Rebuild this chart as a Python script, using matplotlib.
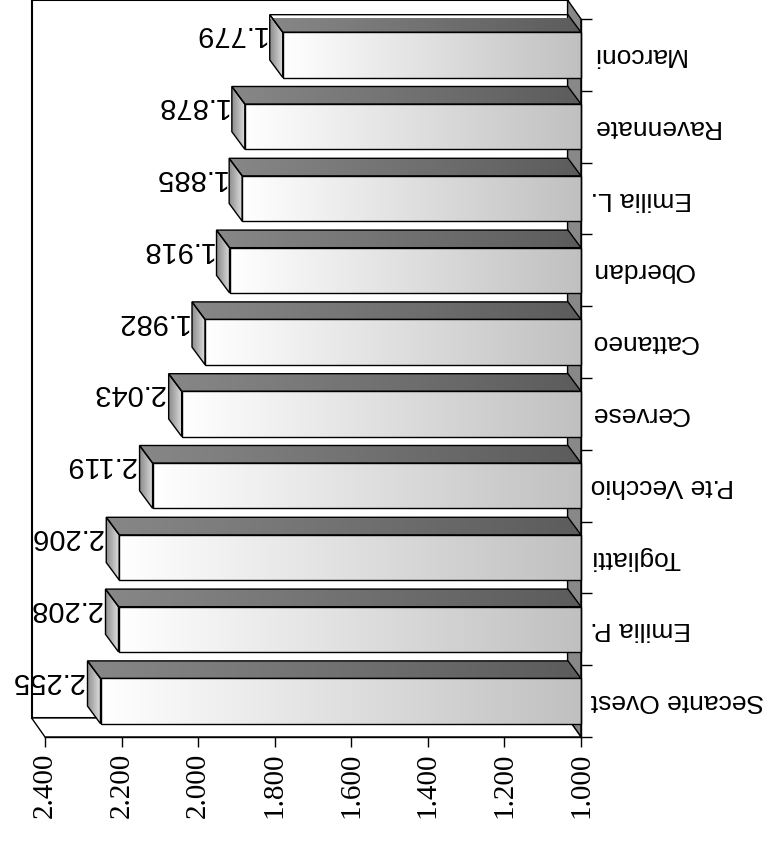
import os

import numpy as np
import matplotlib

matplotlib.use("Agg")
import matplotlib.pyplot as plt
from matplotlib import font_manager as fm
from matplotlib.colors import LinearSegmentedColormap
from matplotlib.patches import Polygon

# daily flows per station (thousands separator is a dot)
stations = ["Secante Ovest", "Emilia P.", "Togliatti", "P.te Vecchio", "Cervese",
            "Cattaneo", "Oberdan", "Emilia L.", "Ravennate", "Marconi"]
flows = [2255, 2208, 2206, 2119, 2043, 1982, 1918, 1885, 1878, 1779]
value_ticks = [1000, 1200, 1400, 1600, 1800, 2000, 2200, 2400]

BASE, TOP = 1000, 2400
WALL_DX, WALL_DY = 35, 0.265   # depth of the box, in value / category units
BAR_DX, BAR_DY = 34, 0.245     # depth of each bar
BAR_H = 0.63


def load_family(stem, fallback):
    """Register a font file by its file name and return its family name."""
    for path in fm.findSystemFonts():
        if os.path.basename(path).startswith(stem):
            fm.fontManager.addfont(path)
            return [fm.FontProperties(fname=path).get_name(), fallback]
    return [fallback]


SANS = load_family("LiberationSans-Regular", "DejaVu Sans")
SERIF = load_family("LiberationSerif-Regular", "DejaVu Serif")


def fmt(v):
    return f"{v:,}".replace(",", ".")


def shaded(ax, verts, x0, x1, c0, c1, z):
    """Polygon filled with a horizontal gradient from c0 (at x0) to c1 (at x1)."""
    poly = Polygon(verts, closed=True, facecolor="none", edgecolor="black",
                   lw=1.0, zorder=z + 0.1, clip_on=False)
    ax.add_patch(poly)
    ys = [p[1] for p in verts]
    cmap = LinearSegmentedColormap.from_list("shade", [c0, c1])
    grad = np.linspace(0, 1, 256).reshape(1, -1)
    im = ax.imshow(grad, cmap=cmap, aspect="auto", interpolation="bilinear",
                   extent=(x0, x1, min(ys), max(ys)), zorder=z)
    im.set_clip_path(poly)
    im.set_clip_box(None)


fig = plt.figure(figsize=(7.69, 8.41), dpi=100)
ax = fig.add_axes([45 / 769, 104 / 841, 536 / 769, 718 / 841])
ax.set_autoscale_on(False)
ax.set_xlim(TOP, BASE)
ax.set_ylim(-0.5, len(stations) - 0.5)
y_lo, y_hi = -0.5, len(stations) - 0.5

# back wall, side wall and floor of the box
ax.add_patch(Polygon([(BASE + WALL_DX, y_lo + WALL_DY), (TOP + WALL_DX, y_lo + WALL_DY),
                      (TOP + WALL_DX, y_hi + WALL_DY), (BASE + WALL_DX, y_hi + WALL_DY)],
                     facecolor="white", edgecolor="black", lw=1.5, zorder=0.5, clip_on=False))
ax.add_patch(Polygon([(BASE, y_lo), (BASE, y_hi), (BASE + WALL_DX, y_hi + WALL_DY),
                      (BASE + WALL_DX, y_lo + WALL_DY)],
                     facecolor="#888888", edgecolor="black", lw=1.0, zorder=0.6, clip_on=False))
ax.add_patch(Polygon([(BASE, y_lo), (TOP, y_lo), (TOP + WALL_DX, y_lo + WALL_DY),
                      (BASE + WALL_DX, y_lo + WALL_DY)],
                     facecolor="white", edgecolor="black", lw=1.0, zorder=0.7, clip_on=False))

# bars, drawn from the top row down
for i in range(len(stations) - 1, -1, -1):
    v = flows[i]
    yb, yt = i - BAR_H / 2, i + BAR_H / 2
    z = 2 + (len(stations) - i) * 0.5
    # top face
    shaded(ax, [(v, yt), (BASE, yt), (BASE + BAR_DX, yt + BAR_DY), (v + BAR_DX, yt + BAR_DY)],
           v + BAR_DX, BASE, "#878787", "#5c5c5c", z)
    # end cap
    shaded(ax, [(v, yb), (v, yt), (v + BAR_DX, yt + BAR_DY), (v + BAR_DX, yb + BAR_DY)],
           v + BAR_DX, v, "#8c8c8c", "#e2e2e2", z)
    # front face
    shaded(ax, [(v, yb), (BASE, yb), (BASE, yt), (v, yt)],
           v, BASE, "#ffffff", "#c0c0c0", z + 0.2)
    ax.text(v + BAR_DX + 10, i + BAR_DY + 0.04, fmt(v), rotation=180,
            ha="right", va="center", fontsize=21, family=SANS, zorder=10)

# axes: category axis on the right, value axis along the floor front edge
for side in ("top", "left"):
    ax.spines[side].set_visible(False)
for side in ("right", "bottom"):
    ax.spines[side].set_linewidth(1.0)
    ax.spines[side].set_zorder(8)

ax.yaxis.tick_right()
ax.set_yticks(np.arange(len(stations) + 1) - 0.5)
ax.set_yticklabels([])
ax.set_yticks(range(len(stations)), minor=True)
ax.set_yticklabels(stations, minor=True, rotation=180, fontsize=19, family=SANS)
ax.tick_params(axis="y", which="major", length=8, width=1.0, direction="out")
ax.tick_params(axis="y", which="minor", length=0, pad=7)
for lbl in ax.get_yticklabels(minor=True):
    lbl.set_va("center")

ax.set_xticks(value_ticks)
ax.set_xticklabels([fmt(t) for t in value_ticks], rotation=90, fontsize=21,
                   family=SERIF)
ax.tick_params(axis="x", length=7, width=1.0, direction="out", pad=4)

fig.savefig("out.png", dpi=100)
